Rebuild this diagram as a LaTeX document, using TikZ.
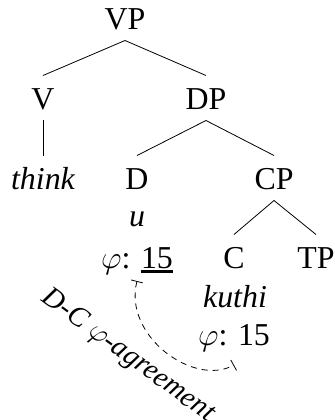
\documentclass[tikz,border=0pt]{standalone}
\usepackage{fix-cm}
\usepackage{fontspec}
\setmainfont{Liberation Serif}
\usepackage{tikz}
\usetikzlibrary{positioning,arrows.meta}
\tikzset{
  every picture/.style={baseline},
  every node/.style={anchor=base,align=center,outer sep=1.5pt,font=\fontsize{32}{38}\selectfont},
  every path/.style={thick},
  cat/.style={text height=30bp,text depth=8bp,inner sep=2bp},
  feat/.style={font=\fontsize{32}{38}\selectfont\itshape},
  agree/.style={dash pattern=on 6bp off 5bp,{Bar[width=12bp]}-{Bar[width=12bp]}},
  agreelabel/.style={font=\fontsize{29}{34}\selectfont\itshape,rotate=-36,anchor=center},
}
\newcommand{\valued}[1]{\setbox0\hbox{#1}\rlap{\rule[-4.5bp]{\wd0}{3bp}}\box0}

\begin{document}
\begin{tikzpicture}[x=1bp,y=-1bp]
  \useasboundingbox (0,0) rectangle (335,420);
  % tree
  \node [cat] (vp) at (125,29) {VP};
  \node [cat] (v) at (43,109) {V};
  \node [cat] (dp) at (206,109) {DP};
  \node [cat,feat] (think) at (43,189) {think};
  \node [cat] (d) at (137,189) {D};
  \node [cat] (cp) at (274,189) {CP};
  \node [cat] (c) at (234,268) {C};
  \node [cat] (tp) at (316,268) {TP};
  % features
  \node [feat] (u) at (137,226) {u};
  \node (dphi) at (137,268) {$\varphi$: \valued{15}};
  \node [feat] (kuthi) at (235,307) {kuthi};
  \node (cphi) at (234,345) {$\varphi$: 15};
  \draw (vp.south) -- (v.north);
  \draw (vp.south) -- (dp.north);
  \draw (v.south) -- (think.north);
  \draw (dp.south) -- (d.north);
  \draw (dp.south) -- (cp.north);
  \draw (cp.south) -- (c.north);
  \draw (cp.south) -- (tp.north);
  % agreement
  \coordinate (agr1) at ([yshift=-2bp]dphi.south);
  \coordinate (agr2) at ([yshift=-9bp]cphi.south);
  \draw [agree] (agr1) .. controls +(-14,55) and +(-40,22) .. (agr2);
  \node [agreelabel] (agr) at (128,356) {D-C $\varphi$-agreement};
\end{tikzpicture}
\end{document}
